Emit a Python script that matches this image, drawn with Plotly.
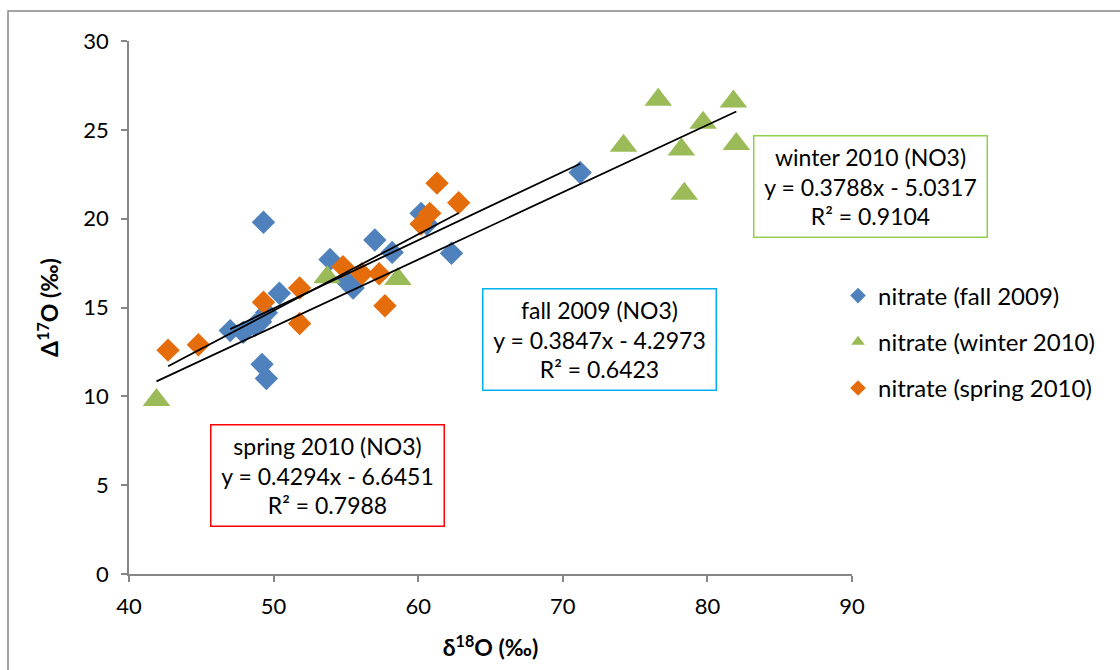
import plotly.graph_objects as go

# ---- data ----
fall_x = [49.3, 71.2, 60.2, 62.3, 57.0, 58.2, 53.9, 50.4, 49.5, 49.1, 47.0, 47.9, 49.2, 49.5, 55.5, 55.0, 60.6, 48.7]
fall_y = [19.8, 22.6, 20.3, 18.05, 18.8, 18.1, 17.7, 15.8, 14.7, 14.2, 13.7, 13.6, 11.8, 11.0, 16.1, 16.5, 19.7, 14.0]

winter_x = [41.9, 53.7, 58.6, 76.6, 74.2, 79.7, 78.2, 81.8, 82.0, 78.4]
winter_y = [9.8, 16.7, 16.6, 26.7, 24.1, 25.4, 23.9, 26.6, 24.2, 21.4]

spring_x = [42.7, 44.8, 49.3, 51.8, 51.8, 54.8, 56.1, 57.3, 57.7, 60.2, 60.8, 61.3, 62.8]
spring_y = [12.6, 12.9, 15.3, 16.1, 14.1, 17.3, 16.9, 16.9, 15.1, 19.7, 20.3, 22.0, 20.9]

fits = {
    "fall": (0.3847, -4.2973, 0.6423),
    "winter": (0.3788, -5.0317, 0.9104),
    "spring": (0.4294, -6.6451, 0.7988),
}

x_ticks = [40, 50, 60, 70, 80, 90]
y_ticks = [0, 5, 10, 15, 20, 25, 30]

BLUE = "#4F81BD"
GREEN = "#9BBB59"
ORANGE = "#E46C0A"
FONT = "Lato"

fig = go.Figure()

fig.add_trace(go.Scatter(x=fall_x, y=fall_y, mode="markers", name="nitrate (fall 2009)",
                         legendgroup="a",
                         marker=dict(symbol="diamond", size=18, color=BLUE)))
fig.add_trace(go.Scatter(x=winter_x, y=winter_y, mode="markers", name="nitrate (winter 2010)",
                         legendgroup="b",
                         marker=dict(symbol="triangle-up", size=24, color=GREEN)))
fig.add_trace(go.Scatter(x=spring_x, y=spring_y, mode="markers", name="nitrate (spring 2010)",
                         legendgroup="c",
                         marker=dict(symbol="diamond", size=18, color=ORANGE)))

# trend lines from fitted coefficients over each series' x range
for key, xs in (("spring", spring_x), ("fall", fall_x), ("winter", winter_x)):
    m, b, _ = fits[key]
    x0, x1 = min(xs), max(xs)
    fig.add_trace(go.Scatter(x=[x0, x1], y=[m * x0 + b, m * x1 + b], mode="lines",
                             line=dict(color="black", width=1.8), showlegend=False,
                             hoverinfo="skip"))

def eq_text(label, key):
    m, b, r2 = fits[key]
    sign = "-" if b < 0 else "+"
    return f"{label}<br>y = {m:.4f}x {sign} {abs(b):.4f}<br>R² = {r2:.4f}"

boxes = [
    ("spring 2010 (NO3)", "spring", "#FF0000", 327.5, 475.5),
    ("fall 2009 (NO3)", "fall", "#00B0F0", 599.5, 339.0),
    ("winter 2010 (NO3)", "winter", "#92D050", 871.0, 186.0),
]
W, H = 1120, 670
L, R, T, B = 129, 268, 41, 96
pw, ph = W - L - R, H - T - B
for label, key, col, cx, cy in boxes:
    fig.add_annotation(
        x=(cx - L) / pw, y=(H - B - cy) / ph, xref="paper", yref="paper",
        text=eq_text(label, key), showarrow=False, align="center",
        xanchor="center", yanchor="middle",
        font=dict(family=FONT, size=23, color="black"),
        bordercolor=col, borderwidth=1.5, borderpad=0,
        width=232, height=100, bgcolor="white",
    )

# outer chart border
fig.add_shape(type="rect", xref="paper", yref="paper",
              x0=(8 - L) / pw, x1=(1130 - L) / pw,
              y0=(H - B - 680) / ph, y1=(H - B - 11) / ph,
              line=dict(color="#878787", width=1.5), fillcolor="rgba(0,0,0,0)")

fig.update_layout(
    width=W, height=H,
    margin=dict(l=L, r=R, t=T, b=B, autoexpand=False),
    paper_bgcolor="white", plot_bgcolor="white",
    font=dict(family=FONT, size=22, color="black"),
    showlegend=True,
    legend=dict(x=(838 - L) / pw, xanchor="left", y=(H - B - 342) / ph, yanchor="middle",
                font=dict(family=FONT, size=24, color="black"),
                tracegroupgap=12, itemsizing="constant", bgcolor="rgba(0,0,0,0)"),
    xaxis=dict(range=[40, 90], tickvals=x_ticks, showgrid=False, zeroline=False,
               showline=True, linecolor="#868686", linewidth=1.5,
               ticks="outside", ticklen=6, tickcolor="#868686", tickwidth=1.5,
               ticklabelstandoff=6,
               tickfont=dict(family=FONT, size=22, color="black"),
               title=dict(text="<b>δ<sup>18</sup>O (‰)</b>", standoff=22,
                          font=dict(family=FONT, size=23, color="black"))),
    yaxis=dict(range=[0, 30], tickvals=y_ticks, showgrid=False, zeroline=False,
               showline=True, linecolor="#868686", linewidth=1.5,
               ticks="outside", ticklen=6, tickcolor="#868686", tickwidth=1.5,
               ticklabelstandoff=8,
               tickfont=dict(family=FONT, size=22, color="black"),
               title=dict(text="<b>Δ<sup>17</sup>O (‰)</b>", standoff=18,
                          font=dict(family=FONT, size=23, color="black"))),
)

fig.write_html("out.html", post_script="document.body.style.margin='0';",
               config={"displayModeBar": False})
